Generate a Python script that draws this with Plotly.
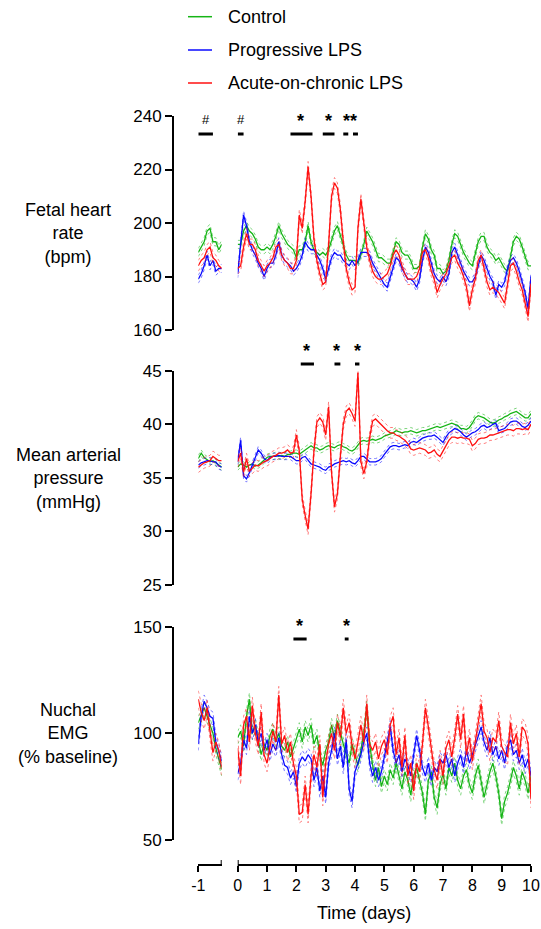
import numpy as np
import plotly.graph_objects as go

# --- sampling times (days) ---
pre_days = [-1.0, -0.9, -0.8, -0.7, -0.6, -0.5, -0.4, -0.3, -0.2]
main_days = np.round(np.arange(0, 10.05, 0.1), 1)

groups = ["Control", "Progressive LPS", "Acute-on-chronic LPS"]
colors = ["#16b516", "#0a0aff", "#ff1010"]

# --- Fetal heart rate (bpm) ---
fhr_control_pre = [189, 191, 193, 197, 198, 193, 193, 190, 192]
fhr_progressive_pre = [179, 181, 184, 188, 184, 186, 182, 183, 183]
fhr_acute_pre = [184, 186, 187, 190, 191, 187, 186, 184, 183]
fhr_control = [192, 192, 197, 199, 197, 196, 194, 191, 190, 190,
               191, 190, 192, 195, 199, 196, 194, 192, 191, 190,
               187, 190, 190, 193, 199, 193, 190, 189, 188, 189,
               188, 190, 194, 197, 199, 195, 192, 188, 186, 186,
               186, 185, 188, 192, 197, 195, 193, 190, 187, 187,
               186, 185, 185, 189, 193, 192, 189, 188, 188, 186,
               183, 183, 184, 191, 196, 194, 190, 188, 183, 183,
               181, 182, 186, 192, 196, 195, 192, 189, 187, 185,
               184, 188, 193, 195, 195, 191, 189, 188, 186, 187,
               185, 183, 182, 187, 193, 195, 194, 191, 187, 184,
               184]
fhr_progressive = [181, 192, 203, 199, 193, 190, 188, 185, 183, 180,
                   183, 185, 185, 188, 193, 188, 186, 185, 184, 182,
                   183, 185, 188, 193, 191, 190, 190, 188, 186, 183,
                   179, 183, 187, 189, 188, 188, 186, 185, 184, 186,
                   184, 186, 189, 189, 189, 188, 185, 183, 181, 179,
                   177, 176, 180, 183, 187, 186, 183, 181, 179, 179,
                   178, 176, 179, 186, 191, 189, 185, 181, 179, 178,
                   180, 178, 181, 189, 191, 188, 185, 182, 180, 178,
                   178, 180, 184, 188, 186, 183, 180, 178, 173, 177,
                   176, 178, 183, 186, 187, 185, 182, 178, 174, 168,
                   180]
fhr_acute = [183, 184, 191, 196, 192, 192, 190, 186, 184, 182,
             184, 185, 187, 191, 192, 188, 186, 185, 183, 183,
             186, 203, 198, 208, 221, 210, 194, 186, 181, 177,
             178, 192, 210, 215, 213, 205, 193, 183, 178, 175,
             176, 198, 209, 200, 191, 186, 182, 180, 179, 179,
             180, 181, 184, 188, 190, 188, 184, 181, 179, 179,
             179, 180, 183, 189, 190, 187, 182, 179, 174, 177,
             179, 181, 184, 187, 188, 185, 183, 180, 176, 169,
             175, 179, 186, 188, 183, 178, 175, 176, 175, 174,
             172, 170, 177, 184, 185, 182, 178, 175, 170, 165,
             177]
fhr_sem = [1.5, 1.5, 2.0]

# --- Mean arterial pressure (mmHg) ---
map_control_pre = [36.8, 37.3, 36.9, 36.7, 36.5, 36.6, 36.4, 36.2, 36.0]
map_progressive_pre = [36.2, 36.4, 36.5, 36.6, 36.6, 36.5, 36.5, 36.1, 36.0]
map_acute_pre = [36.0, 36.2, 36.4, 36.5, 36.6, 37.0, 36.8, 36.6, 36.6]
map_control = [36.0, 36.3, 36.2, 36.0, 36.2, 36.3, 36.1, 36.2, 36.4, 36.7,
               36.9, 37.0, 37.0, 37.1, 37.0, 37.1, 37.0, 37.2, 37.2, 37.3,
               37.3, 37.2, 37.4, 37.6, 37.8, 38.0, 37.8, 37.8, 37.6, 37.7,
               37.9, 38.0, 37.9, 37.8, 38.0, 38.1, 37.9, 37.8, 37.6, 37.5,
               37.7, 38.1, 38.4, 38.5, 38.4, 38.5, 38.6, 38.5, 38.6, 38.7,
               38.9, 39.0, 39.1, 39.2, 39.4, 39.3, 39.2, 39.3, 39.3, 39.4,
               39.3, 39.2, 39.3, 39.4, 39.4, 39.5, 39.6, 39.7, 39.8, 39.7,
               39.8, 39.9, 40.0, 40.1, 40.0, 39.9, 39.6, 39.6, 39.5, 39.7,
               40.1, 40.6, 40.8, 40.7, 40.6, 40.4, 40.2, 40.1, 40.2, 40.4,
               40.5, 40.7, 40.8, 41.0, 41.1, 41.2, 41.0, 40.8, 40.6, 40.6,
               41.0]
map_progressive = [36.5, 38.5, 35.2, 34.9, 35.5, 36.2, 37.0, 37.6, 37.3, 36.8,
                   36.6, 36.9, 37.0, 37.0, 37.1, 37.0, 37.0, 37.0, 37.0, 36.8,
                   36.6, 36.6, 36.9, 37.0, 36.6, 36.3, 36.2, 36.1, 36.0, 35.8,
                   35.7, 36.0, 36.1, 36.3, 36.4, 36.5, 36.6, 36.5, 36.6, 36.4,
                   36.3, 36.6, 37.0, 37.0, 36.7, 36.5, 36.5, 36.5, 36.6, 36.8,
                   37.2, 37.5, 37.9, 38.0, 38.0, 37.9, 38.0, 38.1, 38.0, 38.3,
                   38.4, 38.3, 38.5, 38.7, 38.8, 38.9, 38.9, 39.0, 38.8, 38.5,
                   38.3, 38.8, 39.2, 39.4, 39.6, 39.5, 39.3, 39.0, 38.8, 39.0,
                   39.2, 39.3, 39.5, 39.8, 39.9, 39.7, 39.8, 40.0, 40.1, 39.4,
                   39.5, 39.6, 39.9, 40.2, 40.3, 40.3, 40.1, 39.8, 39.7, 39.9,
                   40.3]
map_acute = [36.5, 37.3, 35.5, 36.8, 35.6, 35.9, 36.2, 36.1, 36.3, 36.5,
             36.6, 36.8, 37.0, 37.1, 37.3, 37.3, 37.4, 37.6, 37.3, 37.4,
             39.0, 37.5, 33.0, 31.5, 30.2, 33.5, 37.5, 40.2, 40.6, 40.2,
             39.0, 41.6, 35.5, 32.3, 33.5, 37.0, 40.0, 41.2, 41.5, 41.0,
             40.3, 44.8, 36.5, 35.4, 36.5, 38.8, 40.3, 40.5, 40.2, 40.0,
             39.7, 39.4, 39.2, 39.2, 39.0, 38.9, 38.7, 38.5, 38.2, 37.7,
             37.6, 37.7, 37.8, 37.7, 37.6, 37.3, 37.4, 37.6, 37.2, 37.0,
             37.5, 38.0, 38.5, 38.8, 38.8, 38.7, 38.8, 38.7, 38.7, 38.6,
             38.0, 38.2, 38.6, 38.7, 38.7, 38.8, 39.0, 39.0, 39.1, 39.2,
             39.3, 39.4, 39.5, 39.5, 39.4, 39.6, 39.6, 39.5, 39.6, 39.5,
             40.0]
map_sem = [0.3, 0.3, 0.5]

# --- Nuchal EMG (% baseline) ---
emg_control_pre = [105, 109, 112, 108, 104, 100, 93, 88, 83]
emg_progressive_pre = [95, 108, 115, 112, 108, 107, 96, 92, 87]
emg_acute_pre = [116, 110, 106, 112, 101, 91, 96, 92, 84]
emg_control = [98, 101, 94, 108, 116, 100, 104, 96, 90, 95,
               92, 99, 102, 96, 100, 94, 92, 96, 89, 93,
               98, 102, 96, 103, 99, 104, 95, 99, 90, 85,
               92, 96, 104, 98, 106, 100, 95, 90, 86, 95,
               90, 85, 92, 100, 112, 95, 85, 78, 84, 75,
               80, 76, 83, 79, 86, 80, 74, 82, 78, 71,
               80, 84, 78, 72, 62, 78, 82, 70, 65, 76,
               81, 74, 84, 80, 86, 78, 74, 80, 83, 76,
               72, 80, 85, 78, 70, 76, 82, 86, 80, 72,
               60, 68, 72, 78, 84, 80, 74, 82, 78, 72,
               80]
emg_progressive = [81, 86, 97, 93, 108, 100, 104, 96, 100, 92,
                   97, 90, 95, 92, 98, 90, 85, 84, 79, 82,
                   75, 86, 89, 87, 90, 88, 78, 84, 73, 80,
                   70, 86, 92, 100, 88, 94, 84, 97, 74, 68,
                   82, 86, 90, 96, 100, 86, 80, 84, 78, 82,
                   90, 96, 103, 92, 86, 90, 82, 88, 85, 80,
                   90, 99, 92, 84, 80, 86, 78, 84, 82, 88,
                   86, 90, 84, 88, 80, 86, 90, 84, 92, 86,
                   90, 94, 98, 103, 96, 92, 98, 90, 94, 88,
                   92, 86, 94, 97, 90, 92, 86, 90, 84, 88,
                   80]
emg_acute = [93, 80, 104, 108, 96, 113, 100, 94, 110, 90,
             86, 93, 101, 96, 118, 95, 99, 91, 96, 86,
             80, 62, 63, 76, 62, 80, 90, 84, 95, 70,
             86, 95, 100, 92, 105, 98, 112, 100, 105, 94,
             88, 96, 104, 96, 114, 95, 92, 96, 88, 94,
             97, 90, 104, 108, 90, 98, 84, 99, 80, 86,
             73, 86, 82, 95, 112, 103, 92, 83, 78, 88,
             80, 93, 97, 89, 98, 109, 97, 109, 90, 98,
             87, 96, 104, 114, 101, 98, 91, 98, 96, 106,
             94, 91, 89, 105, 95, 100, 89, 103, 101, 95,
             69]
emg_sem = [3.0, 3.0, 4.0]

# --- significance bars (axis, start, end) and labels (axis, centre, text) ---
fhr_bars = [("x2", -1.0, -0.5), ("x", 0.0, 0.2), ("x", 1.8, 2.55),
            ("x", 2.9, 3.3), ("x", 3.6, 3.77), ("x", 3.93, 4.1)]
fhr_marks = [("x2", -0.74, "#"), ("x", 0.11, "#"), ("x", 2.13, "*"),
             ("x", 3.09, "*"), ("x", 3.83, "**")]
map_bars = [("x", 2.15, 2.6), ("x", 3.3, 3.5), ("x", 4.0, 4.15)]
map_marks = [("x", 2.36, "*"), ("x", 3.38, "*"), ("x", 4.07, "*")]
emg_bars = [("x", 1.9, 2.35), ("x", 3.65, 3.78)]
emg_marks = [("x", 2.1, "*"), ("x", 3.7, "*")]

W, H = 541, 929


def fx(p):
    return p / W


def fy(p):
    return 1 - p / H


FONT = "Arial, Liberation Sans, sans-serif"

panels = [
    dict(yaxis="y", pre=[fhr_control_pre, fhr_progressive_pre, fhr_acute_pre],
         main=[fhr_control, fhr_progressive, fhr_acute], sem=fhr_sem,
         bars=fhr_bars, marks=fhr_marks, bar_y=134,
         label="Fetal heart<br>rate<br>(bpm)", label_y=233),
    dict(yaxis="y2", pre=[map_control_pre, map_progressive_pre, map_acute_pre],
         main=[map_control, map_progressive, map_acute], sem=map_sem,
         bars=map_bars, marks=map_marks, bar_y=364,
         label="Mean arterial<br>pressure<br>(mmHg)", label_y=478),
    dict(yaxis="y3", pre=[emg_control_pre, emg_progressive_pre, emg_acute_pre],
         main=[emg_control, emg_progressive, emg_acute], sem=emg_sem,
         bars=emg_bars, marks=emg_marks, bar_y=639,
         label="Nuchal<br>EMG<br>(% baseline)", label_y=733),
]

fig = go.Figure()
shapes = []
annotations = []

for p in panels:
    for g in range(3):
        for xs, ys, xa in [(pre_days, p["pre"][g], "x2"), (main_days, p["main"][g], "x")]:
            ys = np.array(ys, dtype=float)
            s = p["sem"][g]
            for band in (ys + s, ys - s):
                fig.add_trace(go.Scatter(
                    x=xs, y=band, xaxis=xa, yaxis=p["yaxis"], mode="lines",
                    line=dict(color=colors[g], width=1, dash="dot"),
                    opacity=0.55, showlegend=False, hoverinfo="skip"))
            fig.add_trace(go.Scatter(
                x=xs, y=ys, xaxis=xa, yaxis=p["yaxis"], mode="lines",
                line=dict(color=colors[g], width=1.3),
                name=groups[g], showlegend=False))

    # significance bars
    for xa, a, b in p["bars"]:
        shapes.append(dict(type="line", xref=xa, yref="paper",
                           x0=a, x1=b, y0=fy(p["bar_y"]), y1=fy(p["bar_y"]),
                           line=dict(color="black", width=3)))
    for xa, c, t in p["marks"]:
        if t == "#":
            annotations.append(dict(text=t, xref=xa, yref="paper", x=c,
                                    y=fy(p["bar_y"] - 5), yanchor="bottom",
                                    showarrow=False,
                                    font=dict(size=13, color="black", family=FONT)))
        else:
            annotations.append(dict(text="<b>" + t + "</b>", xref=xa, yref="paper", x=c,
                                    y=fy(p["bar_y"] - 1), yanchor="bottom",
                                    showarrow=False,
                                    font=dict(size=18, color="black", family=FONT)))

    annotations.append(dict(text=p["label"], xref="paper", yref="paper",
                            x=fx(68), y=fy(p["label_y"]), xanchor="center",
                            yanchor="middle", showarrow=False, align="center",
                            font=dict(size=18, color="black", family=FONT)))

# legend drawn by hand
for i, g in enumerate(groups):
    ry = [16.7, 50, 83][i]
    shapes.append(dict(type="line", xref="paper", yref="paper",
                       x0=fx(188), x1=fx(212), y0=fy(ry), y1=fy(ry),
                       line=dict(color=colors[i], width=1.5)))
    annotations.append(dict(text=g, xref="paper", yref="paper",
                            x=fx(226), y=fy(ry), xanchor="left", yanchor="middle",
                            showarrow=False,
                            font=dict(size=18, color="black", family=FONT)))

# x-axis title and broken-axis end caps
annotations.append(dict(text="Time (days)", xref="paper", yref="paper",
                        x=fx(364), y=fy(913), xanchor="center", yanchor="middle",
                        showarrow=False, font=dict(size=18, color="black", family=FONT)))
for xa, v in [("x2", -0.2), ("x", 0.0)]:
    shapes.append(dict(type="line", xref=xa, yref="paper", x0=v, x1=v,
                       y0=fy(860), y1=fy(866), line=dict(color="black", width=2)))

axis_common = dict(showgrid=False, zeroline=False, showline=True,
                   linecolor="black", linewidth=2, ticks="outside",
                   ticklen=6, tickwidth=2, tickcolor="black", automargin=False,
                   tickfont=dict(size=16, color="black", family=FONT))

y_common = dict(axis_common, anchor="free", position=fx(173), ticklen=7,
                tickfont=dict(size=17, color="black", family=FONT))

fig.update_layout(
    width=W, height=H,
    margin=dict(l=0, r=0, t=0, b=0, pad=0, autoexpand=False),
    paper_bgcolor="white", plot_bgcolor="white",
    showlegend=False,
    xaxis=dict(axis_common, domain=[fx(237.7), fx(531)], range=[0, 10],
               anchor="free", position=fy(865),
               tickvals=list(range(0, 11))),
    xaxis2=dict(axis_common, domain=[fx(198.3), fx(221.7)], range=[-1, -0.2],
                anchor="free", position=fy(865), tickvals=[-1], ticktext=["-1"]),
    yaxis=dict(y_common, domain=[fy(330), fy(116)], range=[160, 240],
               tickvals=[160, 180, 200, 220, 240]),
    yaxis2=dict(y_common, domain=[fy(585), fy(370.7)], range=[25, 45],
                tickvals=[25, 30, 35, 40, 45]),
    yaxis3=dict(y_common, domain=[fy(840), fy(626.7)], range=[50, 150],
                tickvals=[50, 100, 150]),
    shapes=shapes,
    annotations=annotations,
)

fig.write_html("out.html", config={"displayModeBar": False},
               post_script="document.body.style.margin='0';document.body.style.overflow='hidden';")
